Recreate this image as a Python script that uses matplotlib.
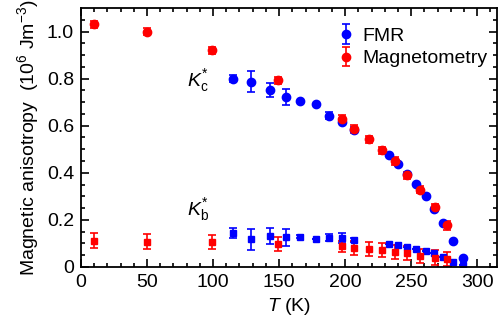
import numpy as np
import matplotlib
matplotlib.use('Agg')
import matplotlib.pyplot as plt

plt.rcParams['font.family'] = ['Liberation Sans', 'DejaVu Sans']
plt.rcParams['mathtext.fontset'] = 'custom'
plt.rcParams['mathtext.rm'] = 'Liberation Sans'
plt.rcParams['mathtext.it'] = 'Liberation Sans:italic'

#
#  Data
#
# K_c*, FMR (blue circles)
T_fmr_c = [115, 129, 143, 155, 166, 178, 188, 198, 207, 233, 240, 247, 254, 261, 267, 274, 282, 289]
K_fmr_c = [0.80, 0.786, 0.75, 0.722, 0.705, 0.694, 0.643, 0.616, 0.583, 0.474, 0.437, 0.396,
           0.352, 0.30, 0.245, 0.186, 0.112, 0.04]
E_fmr_c = [0.015, 0.045, 0.03, 0.035, 0.0, 0.0, 0.015, 0.0, 0.01, 0.0, 0.0, 0.0,
           0.0, 0.0, 0.0, 0.0, 0.0, 0.0]

# K_c*, magnetometry (red circles)
T_mag_c = [10, 50, 99, 149, 198, 207, 218, 228, 238, 247, 257, 268, 277]
K_mag_c = [1.03, 1.0, 0.92, 0.793, 0.63, 0.586, 0.543, 0.495, 0.45, 0.389, 0.328, 0.254, 0.176]
E_mag_c = [0.015, 0.015, 0.015, 0.015, 0.015, 0.015, 0.015, 0.015, 0.015, 0.015, 0.015, 0.015, 0.02]

# K_b*, FMR (blue squares)
T_fmr_b = T_fmr_c
K_fmr_b = [0.143, 0.118, 0.132, 0.126, 0.129, 0.12, 0.125, 0.122, 0.114, 0.097, 0.092, 0.085,
           0.077, 0.068, 0.058, 0.044, 0.023, 0.009]
E_fmr_b = [0.022, 0.045, 0.035, 0.035, 0.005, 0.0, 0.015, 0.02, 0.01, 0.0, 0.0, 0.0,
           0.0, 0.0, 0.0, 0.0, 0.0, 0.0]

# K_b*, magnetometry (red squares)
T_mag_b = T_mag_c
K_mag_b = [0.112, 0.108, 0.106, 0.098, 0.087, 0.082, 0.077, 0.072, 0.065, 0.058, 0.048, 0.04, 0.033]
E_mag_b = [0.03, 0.03, 0.03, 0.03, 0.025, 0.03, 0.03, 0.03, 0.03, 0.03, 0.03, 0.03, 0.03]

blue = '#0000ff'
red = '#ff0000'

fig = plt.figure(figsize=(5.0, 3.32), dpi=100)
ax = fig.add_axes([0.162, 0.196, 0.832, 0.78])

eb = dict(linestyle='none', capsize=3, elinewidth=1.2, capthick=1.2)

ax.errorbar(T_fmr_c, K_fmr_c, yerr=E_fmr_c, marker='o', ms=6, color=blue, label='FMR', **eb)
ax.errorbar(T_fmr_b, K_fmr_b, yerr=E_fmr_b, marker='s', ms=5, color=blue, **eb)
ax.errorbar(T_mag_c, K_mag_c, yerr=E_mag_c, marker='o', ms=6, color=red, label='Magnetometry', **eb)
ax.errorbar(T_mag_b, K_mag_b, yerr=E_mag_b, marker='s', ms=5, color=red, **eb)

# Curve labels
ax.text(80, 0.77, r'$K_\mathrm{c}^{*}$', fontsize=14, ha='left', va='baseline')
ax.text(80, 0.222, r'$K_\mathrm{b}^{*}$', fontsize=14, ha='left', va='baseline')

ax.set_xlim(0, 315)
ax.set_ylim(0, 1.1)
ax.set_xticks(np.arange(0, 301, 50))
ax.set_xticks(np.arange(0, 316, 10), minor=True)
ax.set_yticks(np.arange(0, 1.01, 0.2))
ax.set_yticks(np.arange(0, 1.1, 0.05), minor=True)
ax.set_yticklabels(['0', '0.2', '0.4', '0.6', '0.8', '1.0'])

ax.tick_params(which='both', direction='in', top=True, right=True, labelsize=14, width=1.2)
ax.tick_params(which='major', length=6, pad=5)
ax.tick_params(which='minor', length=3)
for s in ax.spines.values():
    s.set_linewidth(1.3)

ax.set_xlabel(r'$T$ (K)', fontsize=14)
ax.set_ylabel(r'Magnetic anisotropy  (10$^6$ Jm$^{-3}$)', fontsize=14)

ax.legend(loc='upper right', bbox_to_anchor=(0.995, 0.955), frameon=False, fontsize=14,
          handletextpad=0.3, borderaxespad=0.0, labelspacing=0.25, handlelength=1.0)

fig.savefig('out.png', dpi=100)
